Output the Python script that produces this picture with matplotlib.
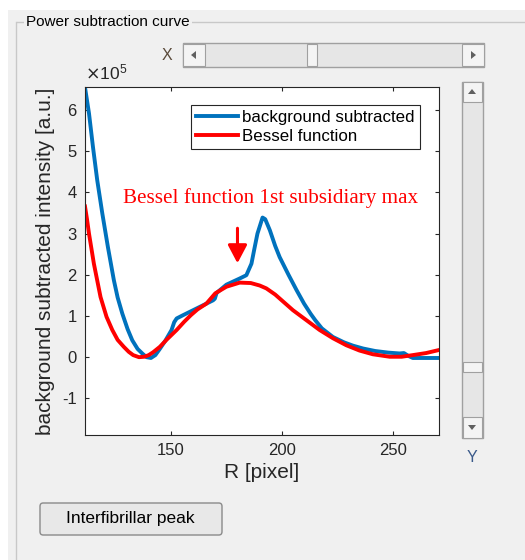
import matplotlib
matplotlib.use("Agg")
import matplotlib.pyplot as plt
from matplotlib.patches import Rectangle, FancyBboxPatch, Polygon
from matplotlib.lines import Line2D

# curve readings (R in pixel, intensity in units of 1e5)
r_blue = [111.3, 113.1, 114.9, 116.8, 119.1, 121.6, 124.3, 126, 128.1, 130.5, 132.6, 135, 137.1, 139,
          141, 143, 145, 147.5, 150.3, 151.5, 152.6, 155.5, 160, 166, 169, 169.8, 170.6, 175, 181,
          184, 186.3, 187.5, 189, 191.3, 192.5, 194.6, 197, 199, 203, 206.6, 210, 213, 215, 218,
          223, 228, 232, 236.6, 242, 248, 253, 255, 257, 259, 270.5]
val_blue = [6.55, 5.92, 5.1, 4.3, 3.49, 2.68, 1.87, 1.45, 1.06, 0.68, 0.41, 0.2, 0.09, 0.0,
            -0.02, 0.05, 0.2, 0.4, 0.66, 0.85, 0.94, 1.02, 1.14, 1.3, 1.38, 1.42, 1.56, 1.76, 1.91,
            1.99, 2.27, 2.6, 3.0, 3.39, 3.35, 3.08, 2.7, 2.43, 2.0, 1.63, 1.3, 1.05, 0.9, 0.7,
            0.49, 0.36, 0.28, 0.21, 0.15, 0.11, 0.09, 0.1, 0.03, -0.02, -0.02]

r_red = [111.3, 112.2, 113.1, 115.3, 118.3, 121, 123.6, 126, 128.8, 131, 133, 135.6, 138, 140,
         142, 145, 148, 152.6, 156, 159, 162, 166, 170, 175, 181, 186, 190, 193, 197, 201, 205,
         211, 217, 223, 229, 235, 241, 248.6, 254, 259, 265, 270.5]
val_red = [3.66, 3.35, 3.0, 2.27, 1.46, 0.98, 0.66, 0.42, 0.25, 0.13, 0.05, 0.0, 0.01, 0.05,
           0.12, 0.25, 0.42, 0.66, 0.86, 1.02, 1.16, 1.3, 1.55, 1.71, 1.81, 1.8, 1.74, 1.67, 1.52,
           1.33, 1.14, 0.9, 0.66, 0.46, 0.29, 0.16, 0.07, 0.01, 0.01, 0.05, 0.1, 0.17]

x_ticks = [150, 200, 250]
y_ticks = [-1, 0, 1, 2, 3, 4, 5, 6]

W, H = 525, 560
plt.rcParams['font.family'] = ['Liberation Sans', 'DejaVu Sans']
plt.rcParams['axes.unicode_minus'] = False

fig = plt.figure(figsize=(W / 100, H / 100), dpi=100)
fig.patch.set_facecolor('white')


def fx(px):
    return px / W


def fy(py):
    return 1 - py / H


def box(x0, y0, x1, y1, **kw):
    # rectangle given in pixel coords (top-left origin)
    r = Rectangle((fx(x0), fy(y1)), fx(x1) - fx(x0), fy(y0) - fy(y1), transform=fig.transFigure, **kw)
    fig.add_artist(r)
    return r


def hline(x0, x1, y, **kw):
    fig.add_artist(Line2D([fx(x0), fx(x1)], [fy(y), fy(y)], transform=fig.transFigure, **kw))


def vline(x, y0, y1, **kw):
    fig.add_artist(Line2D([fx(x), fx(x)], [fy(y0), fy(y1)], transform=fig.transFigure, **kw))


def tri(pts, **kw):
    fig.add_artist(Polygon([(fx(a), fy(b)) for a, b in pts], closed=True, transform=fig.transFigure, **kw))


# GUI background and panel
box(8, 10, W, H, facecolor='#f0f0f0', edgecolor='none', zorder=-5)
hline(17, W, 22, color='#c8c8c8', lw=1)
vline(16, 22, H, color='#c8c8c8', lw=1)
fig.text(fx(26), fy(22), 'Power subtraction curve', fontsize=11, va='center', ha='left',
         color='black', bbox=dict(facecolor='#f0f0f0', edgecolor='none', pad=1.5))

# X slider
fig.text(fx(167), fy(56), 'X', fontsize=11.5, ha='center', va='center', color='#5a4a3a')
box(183, 43, 484, 67, facecolor='#e6e6e6', edgecolor='#a0a0a0', lw=1)
box(183, 44, 205, 66, facecolor='#f4f4f4', edgecolor='#a0a0a0', lw=0.8)
box(462, 44, 484, 66, facecolor='#f4f4f4', edgecolor='#a0a0a0', lw=0.8)
box(307, 44, 317, 66, facecolor='#f4f4f4', edgecolor='#a0a0a0', lw=0.8)
tri([(191, 55), (196, 51), (196, 59)], facecolor='#606060', edgecolor='none')
tri([(476, 55), (471, 51), (471, 59)], facecolor='#606060', edgecolor='none')

# Y slider
box(462, 82, 483, 438, facecolor='#e6e6e6', edgecolor='#a0a0a0', lw=1)
box(463, 82, 482, 102, facecolor='#f4f4f4', edgecolor='#a0a0a0', lw=0.8)
box(463, 417, 482, 438, facecolor='#f4f4f4', edgecolor='#a0a0a0', lw=0.8)
box(463, 362, 482, 372, facecolor='#f4f4f4', edgecolor='#a0a0a0', lw=0.8)
tri([(472, 89), (468, 94), (476, 94)], facecolor='#606060', edgecolor='none')
tri([(472, 430), (468, 425), (476, 425)], facecolor='#606060', edgecolor='none')
fig.text(fx(472), fy(457), 'Y', fontsize=11.5, ha='center', va='center', color='#3a5a8a')

# button
btn = FancyBboxPatch((fx(40), fy(535)), fx(222) - fx(40), fy(503) - fy(535),
                     boxstyle='round,pad=0,rounding_size=0.006', transform=fig.transFigure,
                     facecolor='#e8e8e8', edgecolor='#8a8a8a', lw=1)
fig.add_artist(btn)
fig.text(fx(130), fy(519), 'Interfibrillar peak', fontsize=12.5, ha='center', va='center', color='black')

# axes
ax = fig.add_axes([fx(85), fy(435), fx(439) - fx(85), fy(87) - fy(435)])
ax.set_zorder(10)
ax.plot(r_blue, val_blue, color='#0072BD', lw=2.8, label='background subtracted', solid_joinstyle='round')
ax.plot(r_red, val_red, color='#FF0000', lw=2.8, label='Bessel function', solid_joinstyle='round')

ax.set_xlim(111.3, 270.8)
ax.set_ylim(-1.89, 6.56)
ax.set_xticks(x_ticks)
ax.set_yticks(y_ticks)
ax.tick_params(direction='in', top=True, right=True, length=3, width=0.8,
               labelsize=12, colors='#262626', pad=6)
for s in ax.spines.values():
    s.set_color('#262626')
    s.set_linewidth(0.8)

ax.set_xlabel('R [pixel]', fontsize=15, color='#262626', labelpad=3)
ax.set_ylabel('background subtracted intensity [a.u.]', fontsize=15, color='#262626', labelpad=5)
ax.text(0.0, 1.012, r'$\times\mathregular{10^5}$', transform=ax.transAxes, fontsize=12.5,
        color='#262626', ha='left', va='bottom')

leg = ax.legend(loc='upper right', bbox_to_anchor=(0.946, 0.948), borderaxespad=0,
                fancybox=False, edgecolor='#262626', framealpha=1, fontsize=12.2,
                handlelength=2.5, handletextpad=0.25, borderpad=0.3, labelspacing=0.25)
leg.get_frame().set_linewidth(0.8)

ax.text(0.525, 0.681, 'Bessel function 1st subsidiary max', transform=ax.transAxes,
        fontsize=15.2, color='red', family='Liberation Serif', ha='center', va='center')
ax.annotate('', xy=(180.0, 2.28), xytext=(180.0, 3.13),
            arrowprops=dict(arrowstyle='-|>,head_length=1.1,head_width=0.58', color='red', lw=2.2,
                            shrinkA=0, shrinkB=0))

fig.savefig('out.png', dpi=100)
